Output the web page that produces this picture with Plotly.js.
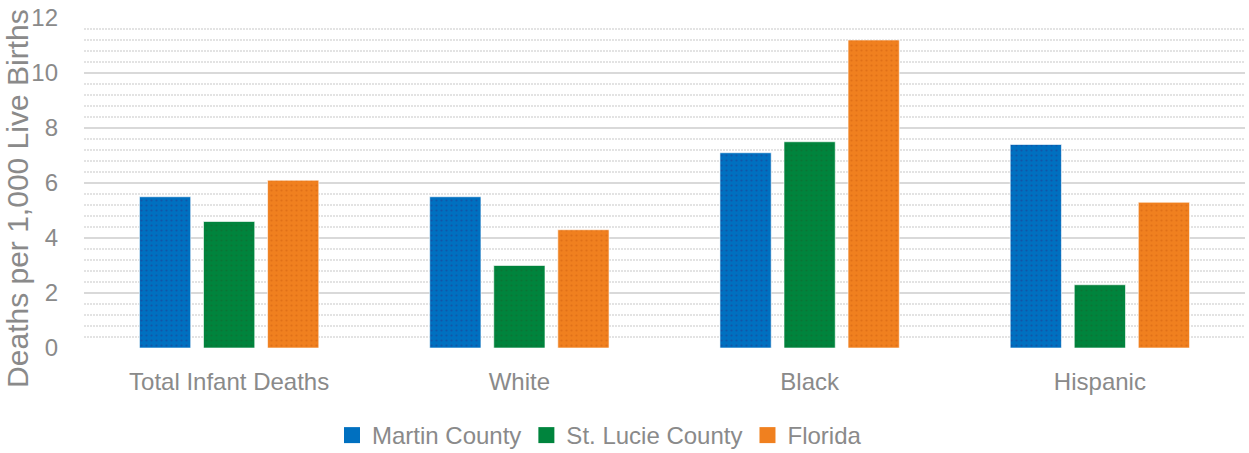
<!DOCTYPE html>
<html>
<head>
<meta charset="utf-8">
<script src="https://cdn.plot.ly/plotly-3.0.1.min.js"></script>
<style>html,body{margin:0;padding:0;background:#fff;}#chart{width:1249px;height:453px;}</style>
</head>
<body>
<div id="chart"></div>
<script>
const categories = ["Total Infant Deaths", "White", "Black", "Hispanic"];
const seriesNames = ["Martin County", "St. Lucie County", "Florida"];
const martinCounty = [5.5, 5.5, 7.1, 7.4];
const stLucieCounty = [4.6, 3.0, 7.5, 2.3];
const florida = [6.1, 4.3, 11.2, 5.3];
const yTickValues = [0, 2, 4, 6, 8, 10, 12];
const yAxisTitle = "Deaths per 1,000 Live Births";

const colors = ["#0070c0", "#00843d", "#f0801f"];
const dotColors = ["#1155a8", "#0a7535", "#e07018"];
const seriesValues = [martinCounty, stLucieCounty, florida];
const textColor = "#8a8a8a";
const fontFamily = "Liberation Sans, Arial, sans-serif";

const traces = [];
seriesValues.forEach((vals, i) => {
  traces.push({
    type: "bar",
    x: categories,
    y: vals,
    name: seriesNames[i],
    showlegend: false,
    marker: {
      color: colors[i],
      line: {color: "rgba(255,255,255,0.6)", width: 1},
      pattern: {shape: ".", fgcolor: dotColors[i], bgcolor: colors[i], size: 5, solidity: 0.15}
    },
    hoverinfo: "none"
  });
});
seriesValues.forEach((vals, i) => {
  traces.push({
    type: "scatter",
    mode: "markers",
    x: [null],
    y: [null],
    name: seriesNames[i],
    marker: {symbol: "square", size: 16, color: colors[i]},
    showlegend: true
  });
});

const layout = {
  width: 1249,
  height: 453,
  margin: {l: 84, r: 4, t: 18, b: 104.5, autoexpand: false},
  paper_bgcolor: "#ffffff",
  plot_bgcolor: "#ffffff",
  font: {family: fontFamily, color: textColor, size: 24},
  barmode: "group",
  bargap: 0.338,
  bargroupgap: 0.2,
  showlegend: true,
  legend: {
    orientation: "h",
    x: 0.444,
    xanchor: "center",
    y: -0.197,
    yanchor: "top",
    font: {family: fontFamily, color: textColor, size: 24},
    itemwidth: 30,
    traceorder: "normal"
  },
  xaxis: {
    type: "category",
    showgrid: false,
    zeroline: false,
    showline: false,
    ticks: "",
    tickfont: {family: fontFamily, color: textColor, size: 24},
    ticklabelstandoff: 17,
    automargin: false,
    fixedrange: true
  },
  yaxis: {
    range: [0, 12],
    tickvals: yTickValues,
    ticktext: yTickValues.map(String),
    showgrid: true,
    gridcolor: "#d9d9d9",
    gridwidth: 2.5,
    zeroline: false,
    showline: false,
    ticks: "",
    tickfont: {family: fontFamily, color: textColor, size: 24},
    ticklabelstandoff: 25,
    minor: {dtick: 0.4, showgrid: true, gridcolor: "#e3e3e3", gridwidth: 1.5, griddash: "2px,1px"},
    automargin: false,
    fixedrange: true
  },
  annotations: [{
    text: yAxisTitle,
    xref: "paper",
    yref: "paper",
    x: -0.0568,
    y: 0.452,
    xanchor: "center",
    yanchor: "middle",
    textangle: -90,
    showarrow: false,
    borderpad: 0,
    font: {family: fontFamily, color: textColor, size: 30}
  }]
};

Plotly.newPlot("chart", traces, layout, {displayModeBar: false, staticPlot: true});
</script>
</body>
</html>
